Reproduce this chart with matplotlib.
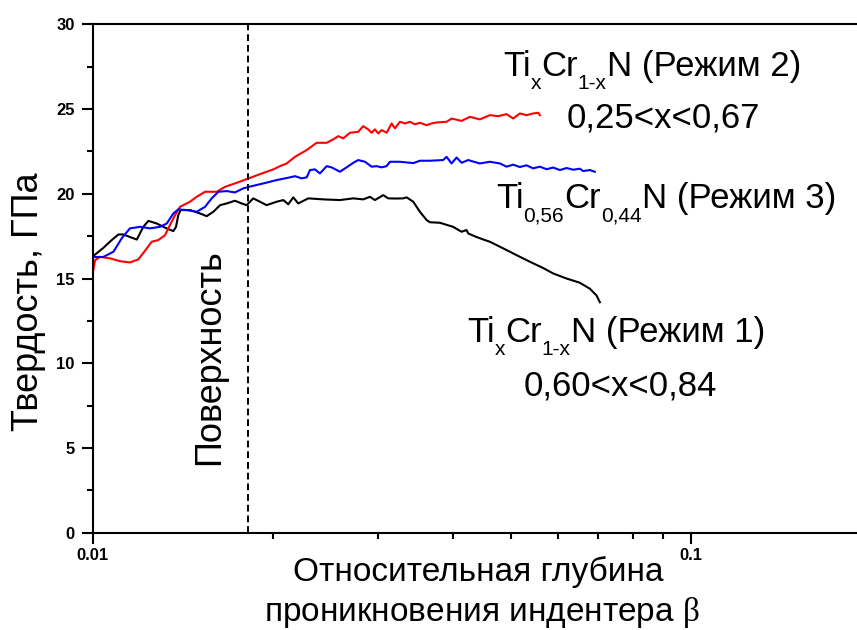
import matplotlib
matplotlib.use("Agg")
import matplotlib.pyplot as plt
from matplotlib.ticker import LogLocator, MultipleLocator, FuncFormatter, NullFormatter

plt.rcParams['font.family'] = ['Liberation Sans', 'DejaVu Sans']
plt.rcParams['mathtext.fontset'] = 'custom'
plt.rcParams['mathtext.rm'] = 'Liberation Sans'
plt.rcParams['mathtext.it'] = 'Liberation Serif'
plt.rcParams['xtick.labelsize'] = 12
plt.rcParams['ytick.labelsize'] = 12

# Режим 1 (black)
x_mode1 = [0.0100, 0.01041, 0.01076, 0.01104, 0.01125, 0.01154, 0.01185, 0.01215, 0.01239,
           0.01279, 0.01330, 0.01364, 0.01378, 0.01390, 0.01403, 0.01454, 0.01511, 0.01551,
           0.01591, 0.01633, 0.01675, 0.01729, 0.01774, 0.01808, 0.01832, 0.01855, 0.01904,
           0.01953, 0.02030, 0.02083, 0.02123, 0.02164, 0.02206, 0.02293, 0.02429, 0.02590,
           0.02727, 0.02833, 0.02907, 0.02964, 0.03060, 0.03119, 0.03222, 0.03305, 0.03348,
           0.03435, 0.03524, 0.03616, 0.03662, 0.03806, 0.04005, 0.04137, 0.04217, 0.04243,
           0.04382, 0.04500, 0.04613, 0.04856, 0.05112, 0.05381, 0.05664, 0.05886, 0.06197,
           0.06523, 0.06778, 0.06956, 0.07045]
y_mode1 = [16.30, 16.80, 17.27, 17.60, 17.60, 17.45, 17.30, 18.05, 18.40,
           18.25, 17.95, 17.80, 18.05, 18.74, 19.04, 19.04, 18.84, 18.68,
           18.94, 19.33, 19.43, 19.59, 19.43, 19.33, 19.53, 19.73, 19.53,
           19.33, 19.53, 19.63, 19.38, 19.79, 19.43, 19.73, 19.67, 19.63,
           19.73, 19.67, 19.82, 19.63, 19.92, 19.73, 19.72, 19.73, 19.79,
           19.53, 18.94, 18.45, 18.32, 18.29, 18.05, 17.76, 17.86, 17.66,
           17.45, 17.30, 17.17, 16.78, 16.38, 15.99, 15.62, 15.30, 15.00,
           14.75, 14.40, 14.00, 13.60]

# Режим 2 (red)
x_mode2 = [0.0100, 0.01009, 0.01028, 0.01069, 0.01111, 0.01154, 0.01192, 0.01223, 0.01255,
           0.01287, 0.01321, 0.01346, 0.01373, 0.01399, 0.01454, 0.01492, 0.01541, 0.01612,
           0.01664, 0.01741, 0.01820, 0.01904, 0.01953, 0.02004, 0.02056, 0.02110, 0.02178,
           0.02279, 0.02368, 0.02461, 0.02524, 0.02573, 0.02623, 0.02692, 0.02779, 0.02833,
           0.02888, 0.02926, 0.02964, 0.03001, 0.03041, 0.03100, 0.03160, 0.03201, 0.03263,
           0.03327, 0.03391, 0.03457, 0.03524, 0.03616, 0.03686, 0.03758, 0.03905, 0.03981,
           0.04137, 0.04271, 0.04438, 0.04613, 0.04763, 0.04920, 0.05046, 0.05177, 0.05312,
           0.05450, 0.05556, 0.05592]
y_mode2 = [15.30, 16.08, 16.28, 16.19, 16.02, 15.95, 16.13, 16.64, 17.17,
           17.27, 17.56, 18.15, 18.74, 19.23, 19.53, 19.82, 20.12, 20.12,
           20.41, 20.65, 20.90, 21.16, 21.30, 21.44, 21.63, 21.79, 22.18,
           22.58, 23.01, 23.01, 23.21, 23.40, 23.27, 23.60, 23.66, 23.99,
           23.80, 23.60, 23.80, 23.56, 23.76, 23.60, 24.15, 23.86, 24.25,
           24.15, 24.25, 24.10, 24.19, 24.05, 24.15, 24.21, 24.25, 24.44,
           24.30, 24.54, 24.39, 24.64, 24.58, 24.70, 24.44, 24.74, 24.64,
           24.74, 24.78, 24.64]

# Режим 3 (blue)
x_mode3 = [0.0100, 0.01041, 0.01083, 0.01118, 0.01154, 0.01200, 0.01247, 0.01296, 0.01330,
           0.01364, 0.01390, 0.01436, 0.01492, 0.01541, 0.01581, 0.01622, 0.01675, 0.01729,
           0.01785, 0.01844, 0.01928, 0.02030, 0.02137, 0.02178, 0.02235, 0.02279, 0.02308,
           0.02353, 0.02398, 0.02461, 0.02508, 0.02590, 0.02657, 0.02727, 0.02779, 0.02852,
           0.02926, 0.02983, 0.03041, 0.03100, 0.03140, 0.03263, 0.03435, 0.03524, 0.03662,
           0.03854, 0.03905, 0.03981, 0.04058, 0.04137, 0.04243, 0.04438, 0.04613, 0.04795,
           0.04920, 0.05046, 0.05177, 0.05312, 0.05450, 0.05592, 0.05738, 0.05886, 0.06040,
           0.06197, 0.06357, 0.06523, 0.06607, 0.06778, 0.06910]
y_mode3 = [16.27, 16.27, 16.58, 17.37, 17.96, 18.05, 17.96, 18.05, 18.25,
           18.84, 19.08, 19.04, 18.94, 19.23, 19.73, 20.12, 20.16, 20.08,
           20.32, 20.45, 20.61, 20.81, 20.97, 21.04, 20.91, 20.97, 21.40,
           21.44, 21.20, 21.63, 21.56, 21.30, 21.56, 21.83, 21.99, 21.89,
           21.60, 21.63, 21.56, 21.63, 21.89, 21.89, 21.81, 21.95, 21.95,
           21.99, 22.18, 21.79, 22.14, 21.83, 21.99, 21.79, 21.89, 21.79,
           21.60, 21.72, 21.58, 21.68, 21.50, 21.60, 21.45, 21.55, 21.40,
           21.52, 21.42, 21.48, 21.34, 21.40, 21.30]

surface_x = 0.0182

fig = plt.figure(figsize=(8.57, 6.3), dpi=100)
ax = fig.add_axes([0.1082, 0.1544, 0.908, 0.807])

ax.plot(x_mode1, y_mode1, color='black', lw=1.5)
ax.plot(x_mode2, y_mode2, color='#ff0000', lw=1.5)
ax.plot(x_mode3, y_mode3, color='#0000ff', lw=1.5)
ax.axvline(surface_x, color='black', lw=1.4, linestyle=(0, (3.5, 2)))

ax.set_xscale('log')
ax.set_xlim(0.01, 0.2)
ax.set_ylim(0, 30)
ax.xaxis.set_major_locator(LogLocator(base=10))
ax.xaxis.set_minor_locator(LogLocator(base=10, subs=range(2, 10)))
ax.xaxis.set_major_formatter(FuncFormatter(lambda v, p: f'{v:g}'))
ax.xaxis.set_minor_formatter(NullFormatter())
ax.yaxis.set_major_locator(MultipleLocator(5))
ax.yaxis.set_minor_locator(MultipleLocator(2.5))

for s in ax.spines.values():
    s.set_linewidth(1.5)
ax.tick_params(which='major', direction='out', length=8, width=1.5)
ax.tick_params(axis='y', which='major', pad=5)
ax.tick_params(axis='x', which='major', pad=3)
ax.tick_params(which='minor', direction='out', length=4.5, width=1.5)
for lab in ax.get_xticklabels() + ax.get_yticklabels():
    lab.set_fontweight('bold')
    lab.set_fontsize(12)

W, H = 857, 630
def ftext(px, py, s, **kw):
    return fig.text(px / W, 1 - py / H, s, **kw)

# label with subscripts, pieces laid out one after another
def rich(px, py, parts, size=25, sub_size=15, sub_drop=13):
    r = fig.canvas.get_renderer()
    x = px
    for s, sub in parts:
        if sub:
            t = ftext(x, py + sub_drop, s, fontsize=sub_size, va='baseline', ha='left')
        else:
            t = ftext(x, py, s, fontsize=size, va='baseline', ha='left')
        bb = t.get_window_extent(renderer=r)
        x = bb.x1

ftext(29, 302, 'Твердость, ГПа', rotation=90, ha='center', va='center', fontsize=26)
ftext(210, 357, 'Поверхность', rotation=90, ha='center', va='center', fontsize=26)
ftext(478, 581, 'Относительная глубина', ha='center', va='baseline', fontsize=24)
ftext(482, 621, 'проникновения индентера $\\beta$', ha='center', va='baseline', fontsize=24)

rich(503, 76, [('Ti', False), ('x', True), ('Cr', False), ('1-x', True), ('N (Режим 2)', False)])
ftext(567, 128, '0,25<x<0,67', fontsize=25, va='baseline')
rich(496, 208, [('Ti', False), ('0,56', True), ('Cr', False), ('0,44', True), ('N (Режим 3)', False)])
rich(467, 342, [('Ti', False), ('x', True), ('Cr', False), ('1-x', True), ('N (Режим 1)', False)])
ftext(524, 395, '0,60<x<0,84', fontsize=25, va='baseline')

fig.savefig('out.png', dpi=100)
